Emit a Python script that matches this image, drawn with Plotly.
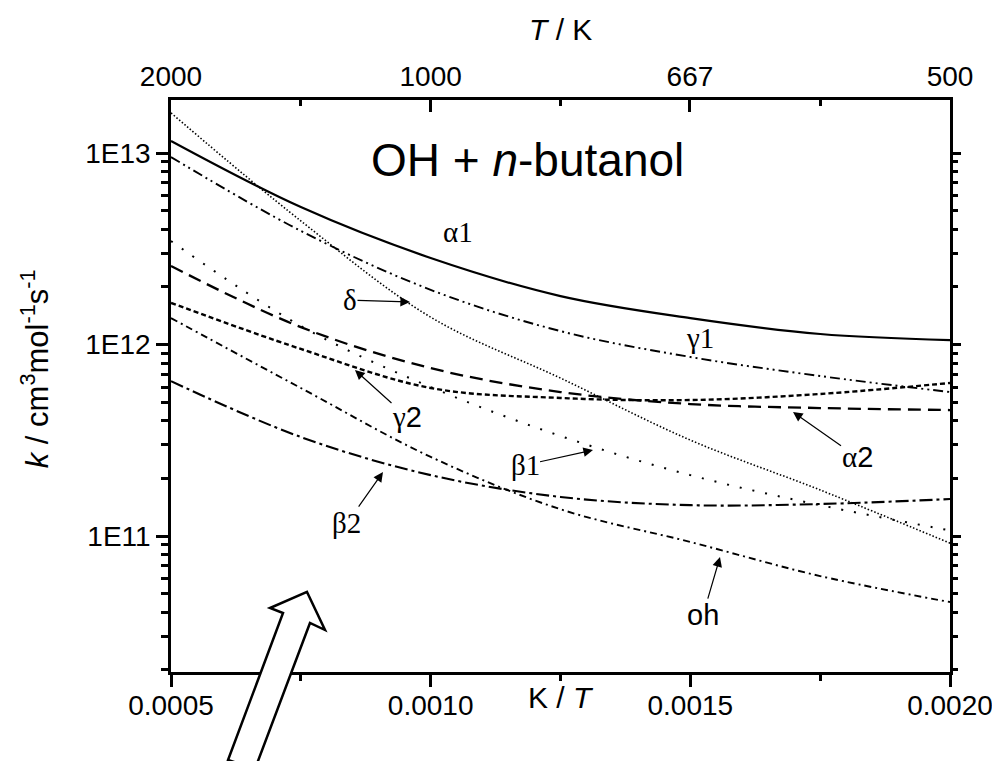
import plotly.graph_objects as go

# ---------------- data ----------------
inv_T = [0.0005, 0.00075, 0.0010, 0.00125, 0.0015, 0.00175, 0.0020]   # K / T

k_alpha1 = [1.156e13, 5.22e12, 2.83e12, 1.79e12, 1.374e12, 1.135e12, 1.054e12]
k_delta  = [1.62e13, 4.42e12, 1.39e12, 6.68e11, 3.17e11, 1.74e11, 9.18e10]
k_gamma1 = [9.53e12, 3.92e12, 1.93e12, 1.175e12, 8.61e11, 6.85e11, 5.65e11]
k_beta1  = [3.47e12, 1.25e12, 6.0e11, 3.33e11, 2.08e11, 1.45e11, 1.07e11]
k_alpha2 = [2.57e12, 1.233e12, 7.53e11, 5.65e11, 4.89e11, 4.66e11, 4.55e11]
k_gamma2 = [1.65e12, 9.48e11, 5.93e11, 5.26e11, 5.13e11, 5.52e11, 6.30e11]
k_oh     = [1.374e12, 5.93e11, 2.59e11, 1.38e11, 9.31e10, 6.18e10, 4.52e10]
k_beta2  = [6.44e11, 3.29e11, 2.08e11, 1.60e11, 1.45e11, 1.47e11, 1.56e11]

x_tickvals = [0.0005, 0.0010, 0.0015, 0.0020]
x_ticktext = ["0.0005", "0.0010", "0.0015", "0.0020"]
x_minor = [0.00075, 0.00125, 0.00175]
T_ticks = [2000, 1000, 667, 500]
y_tickvals = [1e11, 1e12, 1e13]
y_ticktext = ["1E11", "1E12", "1E13"]

x_range = [0.0005, 0.0020]
y_range_log = [10.29, 13.277]

series = [
    ("α1", k_alpha1, "solid", 2.2),
    ("δ", k_delta, "1.5px,2px", 1.6),
    ("γ1", k_gamma1, "10px,4px,2px,4px,2px,4px", 1.9),
    ("β1", k_beta1, "2px,11px", 2.0),
    ("α2", k_alpha2, "13px,7px", 2.3),
    ("γ2", k_gamma2, "5px,3px", 2.4),
    ("oh", k_oh, "7px,4px,2px,4px", 1.9),
    ("β2", k_beta2, "13px,4px,3px,4px", 2.1),
]

SANS = "Liberation Sans, Arial, sans-serif"
SERIF = "Liberation Serif, Times New Roman, serif"

fig = go.Figure()
for name, vals, dash, w in series:
    fig.add_trace(go.Scatter(x=inv_T, y=vals, mode="lines", name=name,
                             line=dict(color="black", width=w, dash=dash,
                                       shape="spline", smoothing=1.0),
                             showlegend=False, hoverinfo="skip"))

# invisible trace to activate the top / right axes
fig.add_trace(go.Scatter(x=inv_T, y=k_alpha1, xaxis="x2", yaxis="y2", mode="lines",
                         line=dict(color="rgba(0,0,0,0)"), showlegend=False,
                         hoverinfo="skip"))

y_minor = [m * 10 ** e for e in (10, 11, 12) for m in range(2, 10)]

tickfont = dict(family=SANS, size=28, color="black")
fig.update_layout(
    width=992, height=753,
    margin=dict(l=163, r=50, t=92, b=89, autoexpand=False),
    paper_bgcolor="white", plot_bgcolor="white",
    xaxis=dict(range=x_range, tickmode="array", tickvals=x_tickvals, ticktext=x_ticktext,
               showgrid=False, zeroline=False, showline=True, linecolor="black",
               linewidth=2.5, ticks="outside", ticklen=12, tickwidth=2.5,
               tickcolor="black", tickfont=tickfont, automargin=False,
               ticklabeloverflow="allow", ticklabelstandoff=-5,
               minor=dict(tickmode="array", tickvals=x_minor, ticks="outside",
                          ticklen=6, tickwidth=2.5, tickcolor="black")),
    xaxis2=dict(range=x_range, overlaying="x", side="top", tickmode="array",
                tickvals=[1.0 / t for t in T_ticks], ticktext=[str(t) for t in T_ticks],
                showgrid=False, zeroline=False, showline=True, linecolor="black",
                linewidth=2.5, ticks="inside", ticklen=12, tickwidth=2.5,
                tickcolor="black", tickfont=tickfont, automargin=False,
                ticklabeloverflow="allow",
                minor=dict(tickmode="array", tickvals=x_minor, ticks="inside",
                           ticklen=6, tickwidth=2.5, tickcolor="black")),
    yaxis=dict(type="log", range=y_range_log, tickmode="array", tickvals=y_tickvals,
               ticktext=y_ticktext, showgrid=False, zeroline=False, showline=True,
               linecolor="black", linewidth=2.5, ticks="outside", ticklen=12,
               tickwidth=2.5, tickcolor="black", tickfont=tickfont, automargin=False,
               minor=dict(tickmode="array", tickvals=y_minor, ticks="outside",
                          ticklen=7, tickwidth=2.5, tickcolor="black")),
    yaxis2=dict(type="log", range=y_range_log, overlaying="y", side="right",
                tickmode="array", tickvals=y_tickvals, showticklabels=False,
                showgrid=False, zeroline=False, showline=True, linecolor="black",
                linewidth=2.5, ticks="outside", ticklen=8, tickwidth=2.5,
                tickcolor="black", automargin=False,
                minor=dict(tickmode="array", tickvals=y_minor, ticks="outside",
                           ticklen=5, tickwidth=2.5, tickcolor="black")),
)

ann = []
# axis titles
ann.append(dict(xref="paper", yref="paper", x=0.5, y=1.1224, text="<i>T</i> / K",
                showarrow=False, font=dict(family=SANS, size=30, color="black"),
                xanchor="center", yanchor="middle"))
ann.append(dict(xref="paper", yref="paper", x=0.5, y=-0.045, text="K / <i>T</i>",
                showarrow=False, font=dict(family=SANS, size=30, color="black"),
                xanchor="center", yanchor="middle"))
ann.append(dict(xref="paper", yref="paper", x=-0.1746, y=0.531, textangle=-90,
                text="<i>k</i> / cm<sup>3</sup>mol<sup>-1</sup>s<sup>-1</sup>",
                showarrow=False, font=dict(family=SANS, size=31, color="black"),
                xanchor="center", yanchor="middle"))
# chart title
ann.append(dict(x=0.0011874, y=12.963, text="OH + <i>n</i>-butanol", showarrow=False,
                font=dict(family=SANS, size=46, color="black"),
                xanchor="center", yanchor="middle"))

# plain curve labels (x, log10 y, text, font)
labels = [
    (0.0010526, 12.587, "α1", SERIF),
    (0.0015186, 12.034, "γ1", SERIF),
]
for x, ly, t, f in labels:
    ann.append(dict(x=x, y=ly, text=t, showarrow=False,
                    font=dict(family=f, size=29, color="black"),
                    xanchor="center", yanchor="middle"))

# labels with pointer arrows: arrow tip (x, log10 y), text centre offset in px
pointer_labels = [
    (0.0009602, 12.222, -60, -2, "δ", SERIF),
    (0.0008543, 11.867, 52, 47, "γ<span style='font-family:Liberation Sans'>2</span>", SERIF),
    (0.0013126, 11.449, -68, 15, "β1", SERIF),
    (0.0009082, 11.334, -36, 51, "β2", SERIF),
    (0.0016977, 11.648, 64, 45, "α<span style='font-family:Liberation Sans'>2</span>", SERIF),
    (0.0015571, 10.890, -17, 58, "oh", SANS),
]
for x, ly, axp, ayp, t, f in pointer_labels:
    ann.append(dict(x=x, y=ly, ax=axp, ay=ayp, text=t, showarrow=True,
                    font=dict(family=f, size=29, color="black"),
                    arrowhead=2, arrowsize=1.6, arrowwidth=1.2, arrowcolor="black",
                    standoff=0, borderpad=0))

fig.update_layout(annotations=ann)

# big hollow arrow (decoration)
pts = [(0.1746, 0.1399), (0.1977, 0.0734), (0.1784, 0.0857), (0.1078, -0.1696),
       (0.0732, -0.1538), (0.1438, 0.1031), (0.1271, 0.1119)]
path = "M " + " L ".join(f"{a},{b}" for a, b in pts) + " Z"
fig.add_shape(type="path", path=path, xref="paper", yref="paper",
              fillcolor="white", line=dict(color="black", width=2.5), layer="above")

fig.write_html("out.html")
